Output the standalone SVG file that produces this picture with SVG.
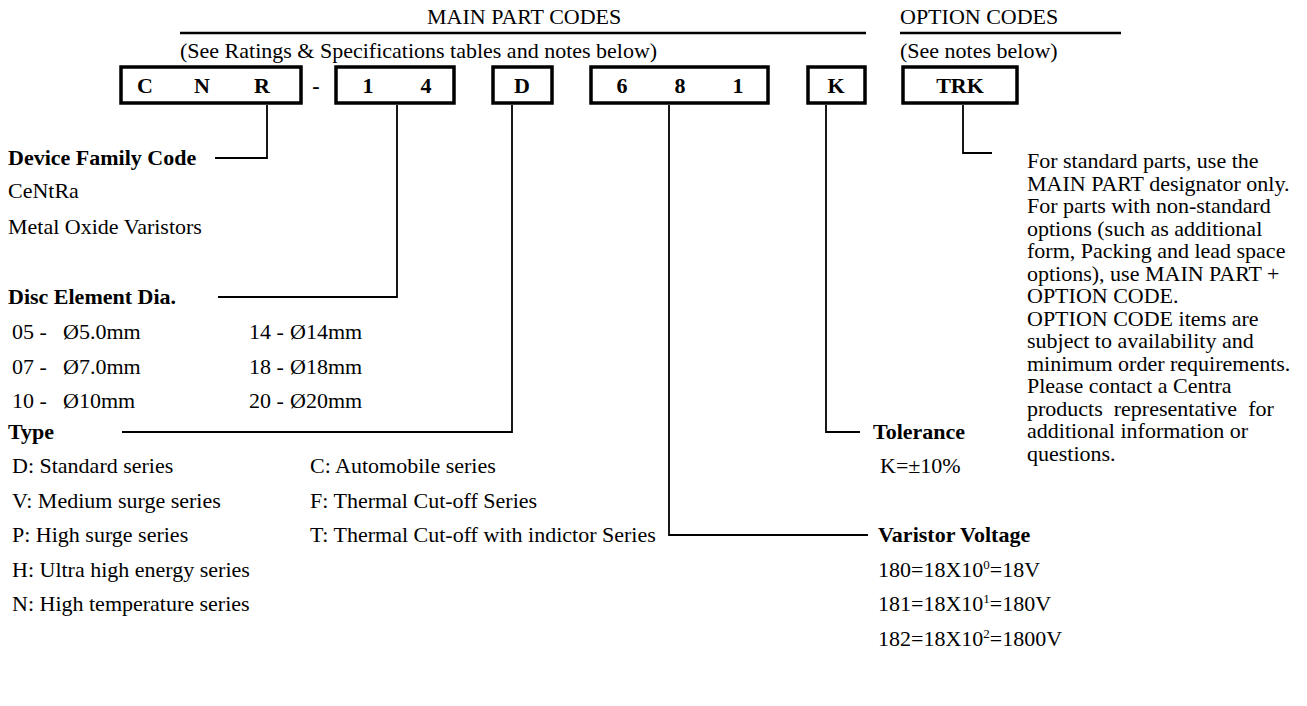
<svg xmlns="http://www.w3.org/2000/svg" width="1307" height="706" viewBox="0 0 1307 706">
<style>
text{font-family:"Liberation Serif","Times New Roman",serif;font-size:22px;fill:#000}
.b{font-weight:bold}
.box{fill:none;stroke:#000;stroke-width:3.5}
.rule{stroke:#000;stroke-width:2.5}
.con{fill:none;stroke:#000;stroke-width:1.8}
.m{text-anchor:middle}
.sup{font-size:13px}
</style>
<rect width="1307" height="706" fill="#fff"/>
<g id="headers">
<text x="427" y="24">MAIN PART CODES</text>
<line class="rule" x1="180" y1="33" x2="866" y2="33"/>
<text x="180" y="58">(See Ratings &amp; Specifications tables and notes below)</text>
<text x="900" y="24">OPTION CODES</text>
<line class="rule" x1="900" y1="33" x2="1121" y2="33"/>
<text x="900" y="58">(See notes below)</text>
</g>
<g id="box-cnr">
<rect class="box" x="121" y="67" width="180" height="36"/>
<text class="b m" x="145" y="93">C</text>
<text class="b m" x="202" y="93">N</text>
<text class="b m" x="262" y="93">R</text>
</g>
<g id="dash">
<text class="b m" x="316" y="93">-</text>
</g>
<g id="box-14">
<rect class="box" x="336" y="67" width="118" height="36"/>
<text class="b m" x="368" y="93">1</text>
<text class="b m" x="426" y="93">4</text>
</g>
<g id="box-d">
<rect class="box" x="493" y="67" width="59" height="36"/>
<text class="b m" x="522" y="93">D</text>
</g>
<g id="box-681">
<rect class="box" x="591" y="67" width="177" height="36"/>
<text class="b m" x="622" y="93">6</text>
<text class="b m" x="680" y="93">8</text>
<text class="b m" x="738" y="93">1</text>
</g>
<g id="box-k">
<rect class="box" x="808" y="67" width="57" height="36"/>
<text class="b m" x="836" y="93">K</text>
</g>
<g id="box-trk">
<rect class="box" x="903" y="67" width="114" height="36"/>
<text class="b m" x="960" y="93">TRK</text>
</g>
<g id="connectors">
<polyline class="con" points="267,105 267,158 215,158"/>
<polyline class="con" points="397,105 397,297 218,297"/>
<polyline class="con" points="512,105 512,432 122,432"/>
<polyline class="con" points="669,105 669,535 868,535"/>
<polyline class="con" points="826,105 826,432 860,432"/>
<polyline class="con" points="963,105 963,153 992,153"/>
</g>
<g id="device-family">
<text class="b" x="8" y="165">Device Family Code</text>
<text x="8" y="198">CeNtRa</text>
<text x="8" y="234">Metal Oxide Varistors</text>
</g>
<g id="disc">
<text class="b" x="8" y="304">Disc Element Dia.</text>
<text x="12" y="339">05 -</text><text x="63" y="339">Ø5.0mm</text>
<text x="12" y="374">07 -</text><text x="63" y="374">Ø7.0mm</text>
<text x="12" y="408">10 -</text><text x="63" y="408">Ø10mm</text>
<text x="249" y="339">14 -</text><text x="290" y="339">Ø14mm</text>
<text x="249" y="374">18 -</text><text x="290" y="374">Ø18mm</text>
<text x="249" y="408">20 -</text><text x="290" y="408">Ø20mm</text>
</g>
<g id="type">
<text class="b" x="8" y="439">Type</text>
<text x="12" y="473">D: Standard series</text>
<text x="12" y="508">V: Medium surge series</text>
<text x="12" y="542">P: High surge series</text>
<text x="12" y="577">H: Ultra high energy series</text>
<text x="12" y="611">N: High temperature series</text>
<text x="310" y="473">C: Automobile series</text>
<text x="310" y="508">F: Thermal Cut-off Series</text>
<text x="310" y="542">T: Thermal Cut-off with indictor Series</text>
</g>
<g id="voltage">
<text class="b" x="878" y="542">Varistor Voltage</text>
<text x="878" y="577">180=18X10<tspan class="sup" dy="-8">0</tspan><tspan dy="8">=18V</tspan></text>
<text x="878" y="611">181=18X10<tspan class="sup" dy="-8">1</tspan><tspan dy="8">=180V</tspan></text>
<text x="878" y="646">182=18X10<tspan class="sup" dy="-8">2</tspan><tspan dy="8">=1800V</tspan></text>
</g>
<g id="tolerance">
<text class="b" x="873" y="439">Tolerance</text>
<text x="880" y="473">K=±10%</text>
</g>
<g id="option-notes">
<text x="1027" y="168">For standard parts, use the</text>
<text x="1027" y="190.5">MAIN PART designator only.</text>
<text x="1027" y="213">For parts with non-standard</text>
<text x="1027" y="235.5">options (such as additional</text>
<text x="1027" y="258">form, Packing and lead space</text>
<text x="1027" y="280.5">options), use MAIN PART +</text>
<text x="1027" y="303">OPTION CODE.</text>
<text x="1027" y="325.5">OPTION CODE items are</text>
<text x="1027" y="348">subject to availability and</text>
<text x="1027" y="370.5">minimum order requirements.</text>
<text x="1027" y="393">Please contact a Centra</text>
<text x="1027" y="415.5" xml:space="preserve">products  representative  for</text>
<text x="1027" y="438">additional information or</text>
<text x="1027" y="460.5">questions.</text>
</g>
</svg>
